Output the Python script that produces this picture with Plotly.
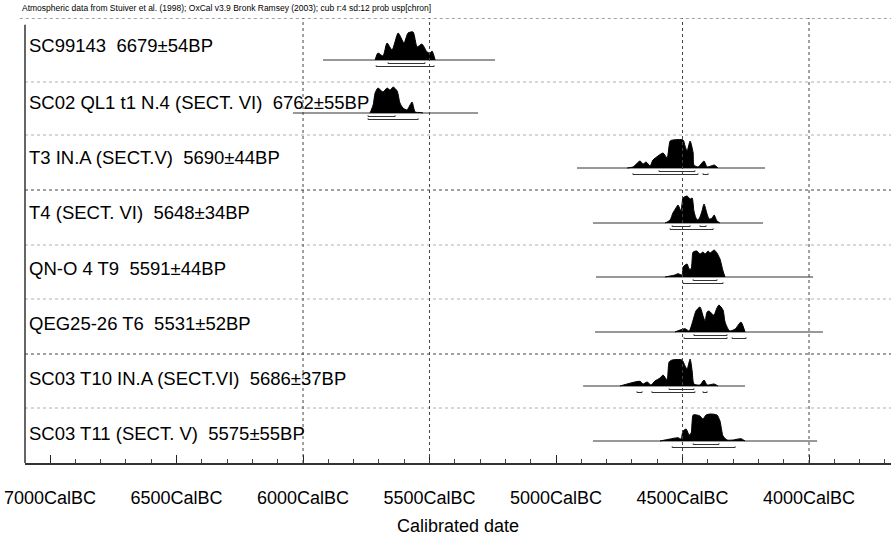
import plotly.graph_objects as go

# ---------------- data (years: negative = BC) ----------------
labels = [
    "SC99143 \u00a06679±54BP",
    "SC02 QL1 t1 N.4 (SECT. VI) \u00a06762±55BP",
    "T3 IN.A (SECT.V) \u00a05690±44BP",
    "T4 (SECT. VI) \u00a05648±34BP",
    "QN-O 4 T9 \u00a05591±44BP",
    "QEG25-26 T6 \u00a05531±52BP",
    "SC03 T10 IN.A (SECT.VI) \u00a05686±37BP",
    "SC03 T11 (SECT. V) \u00a05575±55BP",
]

years_1 = [-5715, -5704, -5684, -5668, -5648, -5624, -5601, -5585, -5565, -5549, -5530, -5510, -5498, -5490, -5478]
prob_1 = [0, 7, 4, 17, 10, 27, 17, 27, 28, 13, 16, 8, 7, 9, 0]

years_2 = [-5735, -5723, -5715, -5704, -5684, -5668, -5656, -5644, -5628, -5617, -5605, -5589, -5577, -5569, -5557, -5538, -5526]
prob_2 = [0, 8, 20, 25, 21, 25, 23, 26, 22, 10, 5, 3, 8, 11, 1, 0.5, 0]

years_3 = [-4719, -4696, -4668, -4656, -4644, -4628, -4617, -4597, -4577, -4561, -4549, -4538, -4498, -4490, -4482,
           -4470, -4458, -4455, -4439, -4427, -4415, -4403, -4387, -4375, -4360]
prob_3 = [0, 1, 7, 4, 6, 2, 8, 12, 15, 10, 27, 28, 28, 22, 17, 27, 15, 3, 1, 4, 7, 1, 2, 3, 0]

years_4 = [-4569, -4561, -4549, -4538, -4526, -4518, -4506, -4498, -4482, -4470, -4462, -4455, -4447, -4439, -4431,
           -4423, -4415, -4403, -4395, -4383, -4375, -4364, -4352]
prob_4 = [0, 1, 3, 10, 15, 18, 12, 25, 27, 24, 25, 12, 5, 3, 6, 12, 19, 9, 4, 5, 8, 2, 0]

years_5 = [-4569, -4549, -4530, -4518, -4502, -4498, -4482, -4474, -4466, -4458, -4443, -4431, -4419, -4411, -4399,
           -4391, -4375, -4364, -4352, -4340, -4332]
prob_5 = [0, 1, 2, 3.3, 2, 10, 13, 8, 8, 25, 26, 23, 25, 23, 26, 24, 27, 24, 18, 6, 0]

years_6 = [-4530, -4490, -4474, -4458, -4447, -4431, -4419, -4411, -4403, -4395, -4379, -4375, -4364, -4356, -4340,
           -4332, -4320, -4312, -4292, -4269, -4261, -4253]
prob_6 = [0, 3.3, 1, 12, 21, 25, 16, 11, 20, 21, 17, 17, 24, 27, 22, 10, 3, 1, 3, 10, 6, 0]

years_7 = [-4747, -4668, -4656, -4640, -4625, -4609, -4589, -4577, -4561, -4553, -4541, -4502, -4490, -4482, -4470,
           -4462, -4455, -4431, -4415, -4403, -4375, -4360]
prob_7 = [0, 4.7, 2, 4, 1, 5, 8, 11, 6, 24, 26, 26, 20, 17, 27, 15, 2, 1, 6, 1, 2, 0]

years_8 = [-4589, -4549, -4518, -4506, -4498, -4486, -4474, -4466, -4458, -4443, -4431, -4419, -4407, -4391, -4364,
           -4352, -4340, -4324, -4300, -4269, -4253]
prob_8 = [0, 2, 3.3, 2, 10, 12, 6, 8, 26, 26, 25, 22, 26, 27, 26, 20, 5, 1, 1, 2.3, 0]

dist_years = [years_1, years_2, years_3, years_4, years_5, years_6, years_7, years_8]
dist_probs = [prob_1, prob_2, prob_3, prob_4, prob_5, prob_6, prob_7, prob_8]

# extent of each plotted likelihood curve (thin baseline)
curve_extent = [(-5921, -5241), (-6040, -5308), (-4917, -4174), (-4854, -4182),
                (-4842, -3984), (-4846, -3945), (-4893, -4253), (-4854, -3968)]

# 68.2% and 95.4% ranges
ranges_68 = [[(-5664, -5518)], [(-5743, -5636)], [(-4593, -4451)], [(-4541, -4470), (-4431, -4407)],
             [(-4458, -4364)], [(-4455, -4324)], [(-4553, -4455)], [(-4458, -4356)]]
ranges_95 = [[(-5711, -5482)], [(-5743, -5545)], [(-4696, -4439), (-4419, -4399)], [(-4549, -4379)],
             [(-4498, -4340)], [(-4494, -4324), (-4304, -4249)],
             [(-4680, -4660), (-4621, -4451), (-4419, -4403)], [(-4541, -4292)]]

tick_years = [-7000, -6500, -6000, -5500, -5000, -4500, -4000]
tick_text = ["7000CalBC", "6500CalBC", "6000CalBC", "5500CalBC", "5000CalBC", "4500CalBC", "4000CalBC"]
grid_years = [-6000, -5500, -4500, -4000]

# ---------------- layout helpers (pixel rows) ----------------
sep_px = [18, 82, 135, 190, 245, 299, 354, 408, 463]
label_px = [45, 102, 157, 212, 268, 323, 378, 433]
BOTTOM = 463
FONT = "Liberation Sans, Arial"


def yv(px):
    return BOTTOM - px


fig = go.Figure()

for i in range(8):
    base = yv(sep_px[i + 1] - 22)
    # thin baseline of the curve
    x0, x1 = curve_extent[i]
    fig.add_trace(go.Scatter(x=[x0, x1], y=[base, base], mode="lines",
                             line=dict(color="#333", width=1), hoverinfo="skip", showlegend=False))
    # filled distribution
    ys = [base + p for p in dist_probs[i]]
    fig.add_trace(go.Scatter(x=dist_years[i], y=ys, mode="lines", fill="toself", fillcolor="black",
                             line=dict(color="black", width=1, shape="spline", smoothing=0.6),
                             hoverinfo="skip", showlegend=False))
    # ranges
    for rng, off in ((ranges_68[i], 3.5), (ranges_95[i], 6.5)):
        xs, yy = [], []
        for a, b in rng:
            yl = base - off
            xs += [a, a, b, b, None]
            yy += [yl + 1.2, yl, yl, yl + 1.2, None]
        fig.add_trace(go.Scatter(x=xs, y=yy, mode="lines", line=dict(color="#333", width=1),
                                 hoverinfo="skip", showlegend=False))
    # label
    fig.add_annotation(x=-7093, y=yv(label_px[i]), xref="x", yref="y", text=labels[i], showarrow=False,
                       xanchor="left", yanchor="middle",
                       font=dict(family=FONT, size=18.5, color="black"))

shapes = []
for j, p in enumerate(sep_px[:-1]):
    dark = j in (0, 3, 6)
    shapes.append(dict(type="line", xref="paper", yref="y", x0=-0.006 if j == 0 else 0, x1=1,
                       y0=yv(p), y1=yv(p),
                       line=dict(color="#444" if dark else "#b0b0b0", width=1, dash="dot")))
for g in grid_years:
    shapes.append(dict(type="line", xref="x", yref="paper", x0=g, x1=g, y0=0, y1=1,
                       line=dict(color="#444", width=1, dash="dot")))
shapes.append(dict(type="line", xref="paper", yref="paper", x0=0, x1=0, y0=0, y1=0.985,
                   line=dict(color="#333", width=1.5)))
fig.update_layout(shapes=shapes)

fig.add_annotation(x=-0.006, y=1.0, xref="paper", yref="paper", yshift=10, showarrow=False,
                   xanchor="left", yanchor="middle",
                   text="Atmospheric data from Stuiver et al. (1998); OxCal v3.9 Bronk Ramsey (2003); cub r:4 sd:12 prob usp[chron]",
                   font=dict(family=FONT, size=8.5, color="black"))

fig.update_layout(
    width=891, height=537,
    margin=dict(l=25, r=0, t=18, b=74),
    paper_bgcolor="white", plot_bgcolor="white",
    xaxis=dict(range=[-7099, -3676], tickvals=tick_years, ticktext=tick_text,
               ticks="inside", ticklen=8, tickcolor="#222", tickwidth=1,
               minor=dict(ticks="inside", ticklen=4, dtick=100, tick0=-7000, tickcolor="#444", showgrid=False),
               showgrid=False, zeroline=False, showline=True, linecolor="#333", linewidth=1.5,
               tickfont=dict(family=FONT, size=18, color="black"),
               ticklabelstandoff=18,
               title=dict(text="Calibrated date", standoff=12,
                          font=dict(family=FONT, size=18, color="black"))),
    yaxis=dict(range=[0, 445], visible=False, fixedrange=True),
    showlegend=False,
)

fig.write_html("out.html", config={"displayModeBar": False},
               post_script="document.body.style.margin='0';")
